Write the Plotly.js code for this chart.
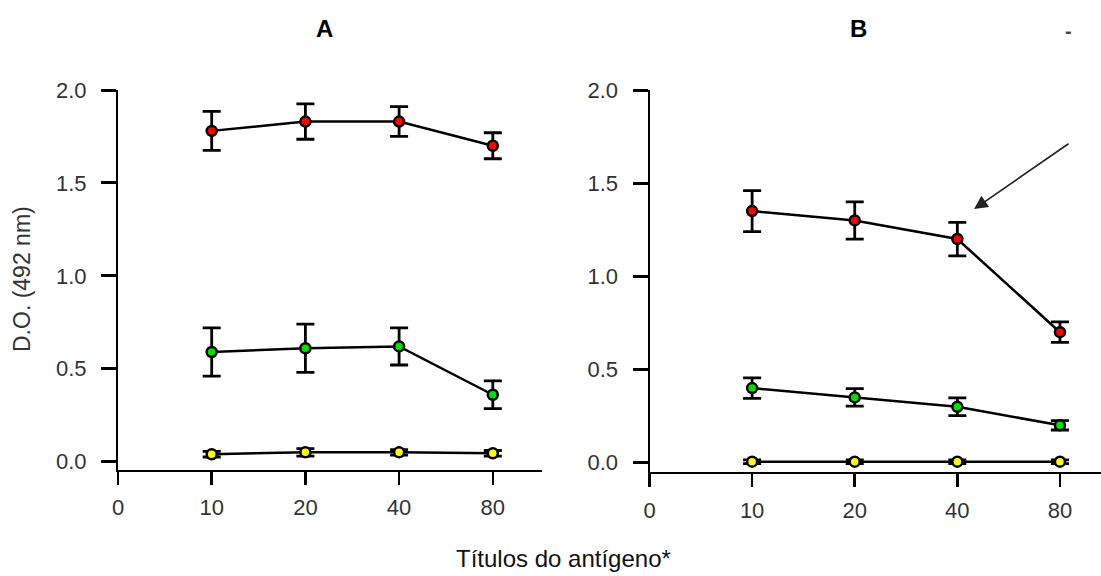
<!DOCTYPE html>
<html>
<head>
<meta charset="utf-8">
<script src="https://cdn.plot.ly/plotly-3.0.1.min.js"></script>
<style>html,body{margin:0;padding:0;background:#fff;}#chart{width:1101px;height:576px;}</style>
</head>
<body>
<div id="chart"></div>
<script>
// ---- data ----
const xTickLabels = ["0", "10", "20", "40", "80"];
const titers = ["10", "20", "40", "80"];

const redA = [1.78, 1.83, 1.83, 1.70];
const redAErr = [0.105, 0.095, 0.08, 0.07];
const greenA = [0.59, 0.61, 0.62, 0.36];
const greenAErr = [0.13, 0.13, 0.10, 0.075];
const yellowA = [0.04, 0.05, 0.05, 0.045];
const yellowAErr = [0.015, 0.02, 0.015, 0.015];

const redB = [1.35, 1.30, 1.20, 0.70];
const redBErr = [0.11, 0.10, 0.09, 0.055];
const greenB = [0.40, 0.35, 0.30, 0.20];
const greenBErr = [0.055, 0.047, 0.048, 0.025];
const yellowB = [0.005, 0.005, 0.005, 0.005];
const yellowBErr = [0.01, 0.01, 0.01, 0.01];

const panelTitles = ["A", "B"];
const yTitle = "D.O. (492 nm)";
const xTitle = "Títulos do antígeno*";

// ---- build ----
const W = 1101, H = 576;
const px = v => v / W;
const py = v => 1 - v / H;
const xPos = titers.map(t => xTickLabels.indexOf(t));
const tickPos = xTickLabels.map((t, i) => i);
const FONT = 'Arial, "Liberation Sans", sans-serif';

function series(y, err, color, xa, ya) {
  return {
    x: xPos, y: y, xaxis: xa, yaxis: ya,
    type: 'scatter', mode: 'lines+markers', showlegend: false, cliponaxis: false,
    line: {color: '#000', width: 2.5},
    marker: {symbol: 'circle', size: 10, color: color, line: {color: '#000', width: 2.5}},
    error_y: {type: 'data', array: err, visible: true, color: '#000', thickness: 2.8, width: 9}
  };
}

const data = [
  series(redA, redAErr, '#ff0000', 'x', 'y'),
  series(greenA, greenAErr, '#00e000', 'x', 'y'),
  series(yellowA, yellowAErr, '#ffff00', 'x', 'y'),
  series(redB, redBErr, '#ff0000', 'x2', 'y2'),
  series(greenB, greenBErr, '#00e000', 'x2', 'y2'),
  series(yellowB, yellowBErr, '#ffff00', 'x2', 'y2')
];

const tickFont = {family: FONT, size: 22, color: '#333'};

function xAxis(domain, range, anchor) {
  return {
    domain: domain, range: range, anchor: anchor,
    tickmode: 'array', tickvals: tickPos, ticktext: xTickLabels,
    showgrid: false, zeroline: false, showline: true, linecolor: '#000', linewidth: 2,
    ticks: 'outside', ticklen: 13, tickwidth: 2.5, tickcolor: '#000',
    tickfont: tickFont, ticklabelstandoff: 4, fixedrange: true
  };
}
function yAxis(domain, range, anchor) {
  return {
    domain: domain, range: range, anchor: anchor,
    tickmode: 'array', tickvals: [0, 0.5, 1.0, 1.5, 2.0], ticktext: ["0.0", "0.5", "1.0", "1.5", "2.0"],
    showgrid: false, zeroline: false, showline: true, linecolor: '#000', linewidth: 2,
    ticks: 'outside', ticklen: 15, tickwidth: 3, tickcolor: '#000',
    tickfont: tickFont, ticklabelstandoff: 10, fixedrange: true
  };
}

const layout = {
  width: W, height: H,
  margin: {l: 0, r: 0, t: 0, b: 0, pad: 0},
  paper_bgcolor: '#fff', plot_bgcolor: '#fff',
  showlegend: false,
  xaxis: xAxis([px(118), px(542)], [0, 4.525], 'y'),
  yaxis: yAxis([py(470), py(90)], [-0.045, 2.0], 'x'),
  xaxis2: xAxis([px(649.5), 1], [0, 4.40], 'y2'),
  yaxis2: yAxis([py(472.3), py(90)], [-0.052, 2.0], 'x2'),
  annotations: [
    {xref: 'paper', yref: 'paper', x: px(325), y: py(28), text: panelTitles[0], showarrow: false,
     font: {family: FONT, size: 24, color: '#000', weight: 'bold'}, xanchor: 'center', yanchor: 'middle'},
    {xref: 'paper', yref: 'paper', x: px(858), y: py(28), text: panelTitles[1], showarrow: false,
     font: {family: FONT, size: 24, color: '#000', weight: 'bold'}, xanchor: 'center', yanchor: 'middle'},
    {xref: 'paper', yref: 'paper', x: px(1068), y: py(31), text: '-', showarrow: false,
     font: {family: FONT, size: 20, color: '#444', weight: 'bold'}, xanchor: 'center', yanchor: 'middle'},
    {xref: 'paper', yref: 'paper', x: px(22), y: py(279), text: yTitle, showarrow: false, textangle: -90,
     font: {family: FONT, size: 23, color: '#333'}, xanchor: 'center', yanchor: 'middle'},
    {xref: 'paper', yref: 'paper', x: px(563), y: py(558), text: xTitle, showarrow: false,
     font: {family: FONT, size: 24, color: '#111'}, xanchor: 'center', yanchor: 'middle'},
    {xref: 'x2', yref: 'y2', x: 3.163, y: 1.361, axref: 'x2', ayref: 'y2', ax: 4.098, ay: 1.717,
     text: '', showarrow: true, arrowhead: 2, arrowsize: 1.7, arrowwidth: 1.6, arrowcolor: '#222', standoff: 0}
  ]
};

Plotly.newPlot('chart', data, layout, {displayModeBar: false, staticPlot: true});
</script>
</body>
</html>
